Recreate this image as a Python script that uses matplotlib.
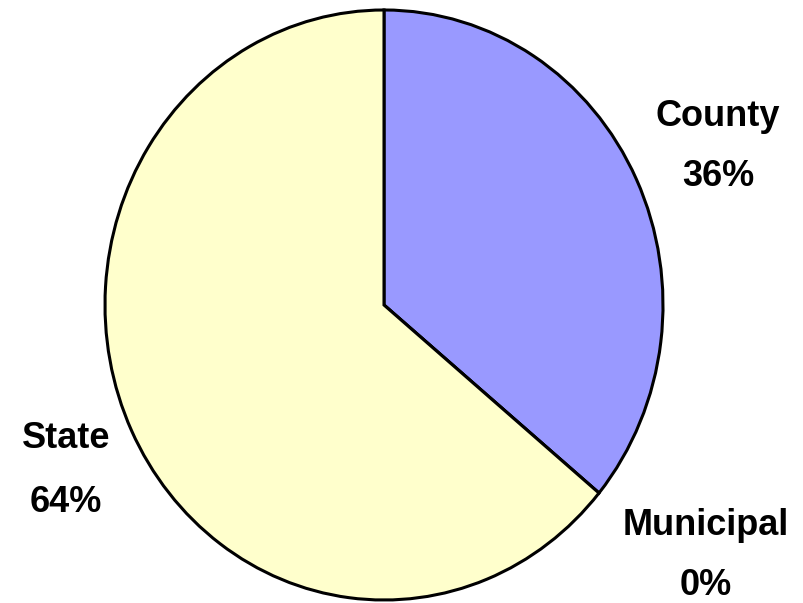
import matplotlib
matplotlib.use("Agg")
import matplotlib.pyplot as plt

categories = ["County", "Municipal", "State"]
values = [36.0, 0.0, 64.0]
colors = ["#9999FF", "#FFFFFF", "#FFFFCC"]

W, H = 804, 603
fig = plt.figure(figsize=(W / 100, H / 100), dpi=100)

cx, cy, rx, ry = 384, 305, 279, 295
ax = fig.add_axes([(cx - rx) / W, (H - (cy + ry)) / H, 2 * rx / W, 2 * ry / H])
ax.pie(values, colors=colors, startangle=90, counterclock=False, radius=1.0,
       wedgeprops=dict(edgecolor="black", linewidth=2.2))
ax.set_xlim(-1, 1)
ax.set_ylim(-1, 1)
ax.set_aspect("auto")
ax.axis("off")

total = sum(values)
pcts = [f"{round(v / total * 100):.0f}%" for v in values]

# label positions (center x, name baseline, pct baseline) in pixels
label_pos = {
    "County": (718, 126, 186),
    "Municipal": (706, 535, 595),
    "State": (66, 448, 512),
}
for name, pct in zip(categories, pcts):
    x, y1, y2 = label_pos[name]
    for txt, yy in ((name, y1), (pct, y2)):
        fig.text(x / W, 1 - yy / H, txt, ha="center", va="baseline",
                 fontsize=26, fontweight="bold", family="Liberation Sans")

fig.savefig("out.png", dpi=100, facecolor="white")
